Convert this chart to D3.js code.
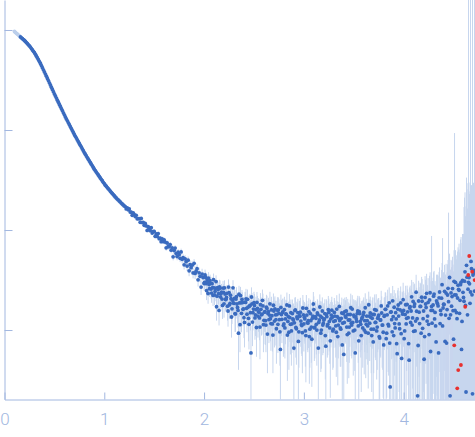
<!DOCTYPE html>
<html><head><meta charset="utf-8">
<script src="https://cdn.jsdelivr.net/npm/d3@7"></script>
<style>html,body{margin:0;padding:0;background:#fff;overflow:hidden}</style>
</head><body>
<svg id="chart" width="475" height="437"></svg>
<script>
// points excluded from the fit (drawn lighter)
const qExcluded = [0.10, 0.11, 0.12, 0.13, 0.14, 0.15];
const iExcluded = [9660, 9462, 9268, 9078, 8892, 8710];
const eExcluded = [45, 45, 44, 44, 43, 43];

// main series: scattering vector q
const qMain = [
0.16,0.17,0.18,0.19,0.20,0.21,0.22,0.23,0.24,0.25,0.26,0.27,0.28,0.29,0.30,0.31,0.32,0.33,0.34,0.35,
0.36,0.37,0.38,0.39,0.40,0.41,0.42,0.43,0.44,0.45,0.46,0.47,0.48,0.49,0.50,0.51,0.52,0.53,0.54,0.55,
0.56,0.57,0.58,0.59,0.60,0.61,0.62,0.63,0.64,0.65,0.66,0.67,0.68,0.69,0.70,0.71,0.72,0.73,0.74,0.75,
0.76,0.77,0.78,0.79,0.80,0.81,0.82,0.83,0.84,0.85,0.86,0.87,0.88,0.89,0.90,0.91,0.92,0.93,0.94,0.95,
0.96,0.97,0.98,0.99,1.00,1.01,1.02,1.03,1.04,1.05,1.06,1.07,1.08,1.09,1.10,1.11,1.12,1.13,1.14,1.15,
1.16,1.17,1.18,1.19,1.20,
1.21,1.22,1.23,1.24,1.25,1.26,1.27,1.28,1.29,1.30,
1.31,1.32,1.33,1.34,1.35,1.36,1.37,1.38,1.39,1.40,
1.41,1.42,1.43,1.44,1.45,1.46,1.47,1.48,1.49,1.50,
1.51,1.52,1.53,1.54,1.55,1.56,1.57,1.58,1.59,1.60,
1.61,1.62,1.63,1.64,1.65,1.66,1.67,1.68,1.69,1.70,
1.71,1.72,1.73,1.74,1.75,1.76,1.77,1.78,1.79,1.80,
1.81,1.82,1.83,1.84,1.85,1.86,1.87,1.88,1.89,1.90,
1.91,1.92,1.93,1.94,1.95,1.96,1.97,1.98,1.99,2.00,
2.01,2.02,2.03,2.04,2.05,2.06,2.07,2.08,2.09,2.10,
2.11,2.12,2.13,2.14,2.15,2.16,2.17,2.18,2.19,2.20,
2.21,2.22,2.23,2.24,2.25,2.26,2.27,2.28,2.29,2.30,
2.31,2.32,2.33,2.34,2.35,2.36,2.37,2.38,2.39,2.40,
2.41,2.42,2.43,2.44,2.45,2.46,2.47,2.48,2.49,2.50,
2.51,2.52,2.53,2.54,2.55,2.56,2.57,2.58,2.59,2.60,
2.61,2.62,2.63,2.64,2.65,2.66,2.67,2.68,2.69,2.70,
2.71,2.72,2.73,2.74,2.75,2.76,2.77,2.78,2.79,2.80,
2.81,2.82,2.83,2.84,2.85,2.86,2.87,2.88,2.89,2.90,
2.91,2.92,2.93,2.94,2.95,2.96,2.97,2.98,2.99,3.00,
3.01,3.02,3.03,3.04,3.05,3.06,3.07,3.08,3.09,3.10,
3.11,3.12,3.13,3.14,3.15,3.16,3.17,3.18,3.19,3.20,
3.21,3.22,3.23,3.24,3.25,3.26,3.27,3.28,3.29,3.30,
3.31,3.32,3.33,3.34,3.35,3.36,3.37,3.38,3.39,3.40,
3.41,3.42,3.43,3.44,3.45,3.46,3.47,3.48,3.49,3.50,
3.51,3.52,3.53,3.54,3.55,3.56,3.57,3.58,3.59,3.60,
3.61,3.62,3.63,3.64,3.65,3.66,3.67,3.68,3.69,3.70,
3.71,3.72,3.73,3.74,3.75,3.76,3.77,3.78,3.79,3.80,
3.81,3.82,3.83,3.84,3.85,3.86,3.87,3.88,3.89,3.90,
3.91,3.92,3.93,3.94,3.95,3.96,3.97,3.98,3.99,4.00,
4.01,4.02,4.03,4.04,4.05,4.06,4.07,4.08,4.09,4.10,
4.11,4.12,4.13,4.14,4.15,4.16,4.17,4.18,4.19,4.20,
4.21,4.22,4.23,4.24,4.25,4.26,4.27,4.28,4.29,4.30,
4.31,4.32,4.33,4.34,4.35,4.36,4.37,4.38,4.39,4.40,
4.41,4.42,4.43,4.44,4.45,4.46,4.47,4.48,4.49,4.50,
4.51,4.52,4.53,4.54,4.55,4.56,4.57,4.58,4.59,4.60,
4.61,4.62,4.63,4.64,4.65,4.66,4.67,4.68,4.69,4.70,
4.71];

// main series: intensity I(q)
const iMain = [
8531,8356,8185,8017,7852,7674,7482,7295,7112,6934,6745,6526,6320,6123,5929,5712,5474,5256,5040,4835,
4624,4406,4198,3999,3811,3627,3451,3278,3120,2963,2817,2677,2543,2419,2296,2188,2084,1986,1894,1803,
1722,1637,1563,1486,1419,1352,1291,1236,1180,1130,1079,1033,987,944,902,865,830,795,764,733,
703,675,647,620,595,572,551,530,510,491,473,455,438,422,406,392,380,367,355,343,
332,321,311,300,291,281,274,266,259,252,245,238,232,226,220,214,209,204,200,195,
191,186,182,178,174,
171.6,162.4,166.5,159.1,162.3,151.1,150.7,140.5,147.9,142.9,
136.4,140.4,129.3,130.1,130.2,119.6,130.7,118.6,119.3,111.6,
116.5,109.8,99.1,108.1,104.3,98.6,105.3,93.3,96.5,96.9,
86.5,91.3,86.3,92.2,82.0,82.8,76.5,81.6,76.8,79.8,
75.8,66.3,74.2,68.2,68.4,71.6,62.9,66.4,53.9,62.4,
66.0,58.2,54.2,60.0,56.7,52.1,60.4,50.9,53.0,44.9,
51.5,48.3,43.6,49.9,39.1,45.0,42.0,44.5,37.2,46.5,
36.8,38.7,41.1,31.8,37.3,34.4,26.9,36.3,33.5,29.2,
35.6,29.1,31.7,23.2,28.5,31.2,25.7,29.1,22.2,26.4,
24.3,30.5,21.8,25.3,15.7,26.2,23.1,20.4,26.3,18.3,
22.9,20.3,23.3,15.5,23.7,18.5,20.6,16.3,26.4,18.5,
14.6,20.4,18.2,15.7,22.8,11.3,18.7,20.2,16.1,13.3,
19.0,20.5,14.4,16.9,11.4,17.6,5.9,18.3,14.9,18.8,
13.2,16.0,18.9,13.8,15.1,10.7,16.1,14.4,17.4,12.5,
15.3,11.2,16.4,14.6,12.7,18.3,11.6,13.9,8.9,15.5,
16.3,12.7,14.3,11.4,14.7,9.6,16.8,12.8,15.2,11.5,
10.5,14.5,17.8,12.2,9.5,13.3,14.9,11.5,12.9,6.6,
15.6,10.6,13.5,14.9,9.6,13.7,12.3,11.1,16.6,11.5,
12.9,8.8,14.1,11.7,15.3,10.2,12.4,8.1,13.8,16.0,
10.7,13.1,10.0,14.3,11.9,17.0,9.3,13.4,11.2,12.6,
14.6,6.9,13.6,11.4,15.0,10.5,12.9,15.8,9.8,12.2,
13.8,11.0,16.2,8.6,13.1,12.4,10.2,14.8,11.7,5.7,
15.3,13.4,10.7,14.3,9.3,12.6,16.7,11.2,11.9,14.1,
10.0,13.6,12.2,15.5,7.8,14.6,11.4,12.9,10.5,15.0,
12.4,9.5,13.8,11.0,17.9,11.7,13.4,8.8,14.3,10.2,
16.0,11.9,9.8,13.1,14.1,8.3,12.6,14.8,11.2,7.1,
14.0,16.1,9.3,17.4,11.0,7.4,15.1,12.7,19.6,8.8,
11.6,14.9,7.3,16.2,13.8,10.3,18.7,5.2,14.4,15.7,
9.8,17.9,13.1,15.2,7.3,16.6,11.9,21.5,13.2,9.7,
18.2,12.3,15.4,2.2,19.5,11.6,17.2,21.3,10.4,15.5,
8.6,18.2,23.3,13.8,11.4,20.0,6.1,17.2,15.7,21.8,
12.9,11.0,19.6,18.3,5.9,24.0,15.7,20.8,11.0,18.1,
24.4,14.1,7.4,22.4,19.2,33.5,14.2,17.3,26.0,8.1,
22.5,29.9,14.9,20.9,25.5,14.7,28.4,6.4,31.3,21.2,
30.8,17.6,44.4,14.2,30.0,29.0,24.0,41.0,2.3,37.0,
24.5];

// main series: error of I(q)
const eMain = [
40,39,38,37,36,35,34,33,32,31.5,30,29,28,27.5,27,26,25,24.5,24,23,
22,21.5,21,20,19.5,19,18.5,18,17.5,17,16.5,16,15.5,15,14.5,14,13.5,13,12.5,12,
12,11.5,11,11,10.5,10,10,9.5,9.5,9,9,8.7,8.5,8.2,8,7.8,7.5,7.3,7,6.8,
6.7,6.5,6.4,6.2,6.1,6,5.9,5.8,5.7,5.6,5.5,5.4,5.3,5.3,5.2,5.1,5.1,5,5,4.9,
4.9,4.8,4.8,4.7,4.7,4.6,4.6,4.5,4.5,4.5,4.4,4.4,4.4,4.3,4.3,4.3,4.2,4.2,4.2,4.1,
4.1,4.1,4.0,4.0,4.0,
4.1,3.9,4.2,4.0,4.3,3.8,4.1,4.0,4.2,3.9,
4.0,4.3,3.9,4.1,4.2,4.0,4.4,3.9,4.1,4.2,
4.0,4.2,4.1,3.9,4.3,4.2,4.0,4.4,4.1,4.2,
4.3,4.1,4.4,4.2,4.5,4.3,4.2,4.4,4.1,4.3,
4.4,4.2,4.5,4.3,4.1,4.6,4.3,4.4,4.2,4.5,
4.3,4.6,4.4,4.2,4.5,4.3,4.7,4.4,4.2,4.6,
4.5,4.3,4.7,4.4,4.6,4.2,4.5,4.8,4.4,4.6,
4.5,4.7,4.3,4.6,4.8,4.4,4.5,4.7,4.6,4.4,
4.6,4.8,4.5,4.9,4.7,4.6,5.0,4.7,4.8,4.6,
4.9,4.7,5.0,4.8,4.6,5.1,4.8,4.9,4.7,5.0,
4.8,5.1,4.9,4.7,5.2,4.9,5.0,4.8,5.1,4.9,
5.0,4.8,5.2,5.1,4.9,5.3,5.0,4.9,5.2,5.0,
5.1,5.3,4.9,5.2,5.0,5.4,5.1,5.2,5.0,5.3,
5.2,5.5,5.1,5.4,5.3,5.6,5.2,5.4,5.7,5.3,
5.5,5.2,5.6,5.4,5.3,5.8,5.4,5.5,5.2,5.6,
5.4,5.7,5.3,5.5,5.6,5.2,5.8,5.4,5.5,5.7,
5.3,5.6,5.9,5.4,5.5,5.7,5.3,5.6,5.4,5.8,
5.5,5.3,5.7,5.6,5.4,5.9,5.5,5.6,5.8,5.4,
5.6,5.8,5.4,5.7,5.5,6.0,5.6,5.4,5.9,5.7,
5.5,5.8,5.6,5.4,6.1,5.7,5.5,5.9,5.6,5.8,
5.7,5.5,6.0,5.8,5.6,5.9,6.2,5.7,5.8,5.6,
5.9,5.7,6.1,5.8,6.0,5.6,5.9,6.3,5.8,6.0,
5.8,6.1,5.9,6.2,6.0,5.8,6.4,6.0,5.9,6.2,
6.1,6.3,6.0,6.5,6.2,6.4,6.1,6.6,6.3,6.2,
6.4,6.2,6.7,6.5,6.3,6.8,6.6,6.4,6.9,6.5,
6.7,6.9,6.6,7.1,6.8,7.0,7.3,6.9,7.2,7.0,
7.3,7.6,7.2,7.9,7.5,7.8,8.2,7.6,8.0,7.7,
8.1,8.4,8.0,8.7,8.3,9.0,8.6,8.8,9.3,8.9,
9.4,9.8,9.2,10.3,9.7,10.1,10.8,10.2,10.6,11.2,
10.9,11.5,11.1,12.0,11.6,12.4,11.9,12.7,12.2,13.1,
12.8,13.6,13.2,14.3,13.8,14.9,14.4,70,15.2,16.0,
15.6,16.8,16.2,17.5,17.0,18.3,17.7,19.1,72,19.6,
20.5,21.8,21.1,23.0,130,24.5,26.0,25.2,28.0,30.5,
910,33.0,36.0,40.0,38.0,45.0,52.0,48.0,60.0,70.0,
180,120,290,150,30000,200,30000,240,30000,260,
30000];

// intermediate readings of the main series (between the grid above), q > 2
const qMid = [
2.005,2.015,2.025,2.035,2.045,2.055,2.065,2.075,2.085,2.095,
2.105,2.115,2.125,2.135,2.145,2.155,2.165,2.175,2.185,2.195,
2.205,2.215,2.225,2.235,2.245,2.255,2.265,2.275,2.285,2.295,
2.305,2.315,2.325,2.335,2.345,2.355,2.365,2.375,2.385,2.395,
2.405,2.415,2.425,2.435,2.445,2.455,2.465,2.475,2.485,2.495,
2.505,2.515,2.525,2.535,2.545,2.555,2.565,2.575,2.585,2.595,
2.605,2.615,2.625,2.635,2.645,2.655,2.665,2.675,2.685,2.695,
2.705,2.715,2.725,2.735,2.745,2.755,2.765,2.775,2.785,2.795,
2.805,2.815,2.825,2.835,2.845,2.855,2.865,2.875,2.885,2.895,
2.905,2.915,2.925,2.935,2.945,2.955,2.965,2.975,2.985,2.995,
3.005,3.015,3.025,3.035,3.045,3.055,3.065,3.075,3.085,3.095,
3.105,3.115,3.125,3.135,3.145,3.155,3.165,3.175,3.185,3.195,
3.205,3.215,3.225,3.235,3.245,3.255,3.265,3.275,3.285,3.295,
3.305,3.315,3.325,3.335,3.345,3.355,3.365,3.375,3.385,3.395,
3.405,3.415,3.425,3.435,3.445,3.455,3.465,3.475,3.485,3.495,
3.505,3.515,3.525,3.535,3.545,3.555,3.565,3.575,3.585,3.595,
3.605,3.615,3.625,3.635,3.645,3.655,3.665,3.675,3.685,3.695,
3.705,3.715,3.725,3.735,3.745,3.755,3.765,3.775,3.785,3.795,
3.805,3.815,3.825,3.835,3.845,3.855,3.865,3.875,3.885,3.895,
3.905,3.915,3.925,3.935,3.945,3.955,3.965,3.975,3.985,3.995,
4.005,4.015,4.025,4.035,4.045,4.055,4.065,4.075,4.085,4.095,
4.105,4.115,4.125,4.135,4.145,4.155,4.165,4.175,4.185,4.195,
4.205,4.215,4.225,4.235,4.245,4.255,4.265,4.275,4.285,4.295,
4.305,4.315,4.325,4.335,4.345,4.355,4.365,4.375,4.385,4.395,
4.405,4.415,4.425,4.435,4.445,4.455,4.465,4.475,4.485,4.495,
4.505,4.515,4.525,4.535,4.545,4.555,4.565,4.575,4.585,4.595,
4.605,4.615,4.625,4.635,4.645,4.655,4.665,4.675,4.685,4.695,
4.705];
const iMid = [
30.0,33.7,24.8,30.1,33.1,25.9,29.3,23.4,26.5,31.9,
22.5,26.1,17.1,26.5,23.1,27.0,21.4,23.9,17.6,23.8,
26.4,20.2,21.2,17.3,26.9,17.9,22.3,13.5,19.9,18.6,
20.7,14.5,21.6,16.8,9.3,18.7,22.1,14.7,18.8,16.3,
11.9,18.9,16.5,20.3,13.1,17.3,14.9,21.4,12.0,16.2,
17.6,14.2,10.6,16.5,15.2,13.2,17.9,14.2,19.8,11.3,
15.1,12.4,16.9,9.1,15.3,14.1,13.0,15.9,11.5,17.7,
12.3,14.2,10.3,15.8,15.9,12.7,6.4,14.3,15.0,11.1,
16.0,12.9,14.3,8.9,13.6,17.4,11.4,9.8,14.6,12.6,
11.8,15.9,10.3,13.0,7.7,13.9,15.1,11.3,9.4,14.2,
13.4,9.8,16.5,11.9,12.4,8.6,14.6,10.7,13.1,18.2,
10.5,13.6,11.4,14.8,6.6,12.6,13.8,10.0,15.5,11.7,
12.9,8.8,14.3,11.0,16.0,12.2,7.8,14.1,13.4,10.2,
15.0,12.4,9.5,13.6,11.2,17.2,10.5,13.1,7.1,14.6,
11.9,13.8,15.5,9.0,12.6,10.7,14.3,11.7,16.2,9.8,
13.6,5.9,12.9,14.6,11.0,15.3,12.2,8.8,13.4,14.1,
10.0,16.7,11.4,12.4,9.3,13.8,14.8,10.2,13.1,7.6,
14.3,11.9,15.8,10.7,13.6,8.6,12.6,17.4,11.2,9.5,
13.7,16.1,8.2,14.2,11.4,18.7,2.7,15.2,9.6,13.6,
16.9,10.5,12.9,5.8,17.8,11.5,15.9,9.2,15.2,20.1,
8.2,14.3,11.5,18.0,13.3,5.0,17.1,15.5,11.2,19.3,
17.2,9.8,23.9,13.0,7.0,15.1,17.2,9.3,19.4,13.0,
5.1,21.2,16.8,12.3,18.9,9.0,23.6,15.7,11.7,17.8,
22.9,15.0,7.6,18.7,17.4,21.0,11.6,14.3,28.4,16.6,
18.0,7.7,23.4,16.0,26.1,13.1,2.2,23.5,21.6,15.6,
30.7,15.7,22.4,13.0,28.1,25.0,19.8,30.0,12.2,23.8,
19.4,38.2,2.4,33.8,25.6,33.5,18.5,48.5,22.5,35.5,
39.5];
const eMid = [
4.7,4.5,4.9,4.6,4.8,4.5,4.9,4.7,4.6,4.8,
4.8,5.0,4.7,4.9,5.1,4.8,4.9,5.0,4.7,4.9,
5.0,4.8,5.1,4.9,5.2,5.0,4.8,5.1,4.9,5.0,
5.1,4.9,5.2,5.0,5.3,5.1,4.9,5.2,5.0,5.1,
5.2,5.0,5.3,5.1,5.4,5.2,5.0,5.3,5.1,5.2,
5.3,5.5,5.2,5.4,5.6,5.3,5.5,5.4,5.6,5.3,
5.5,5.3,5.6,5.4,5.7,5.5,5.3,5.6,5.4,5.5,
5.6,5.4,5.7,5.5,5.3,5.8,5.5,5.6,5.4,5.7,
5.5,5.7,5.4,5.8,5.6,5.5,5.7,5.4,5.6,5.8,
5.6,5.4,5.8,5.5,5.7,5.6,5.9,5.5,5.7,5.6,
5.7,5.5,5.9,5.6,5.8,5.7,5.5,6.0,5.6,5.8,
5.6,5.9,5.7,5.5,6.0,5.8,5.6,5.9,5.7,5.8,
5.8,5.6,6.0,5.7,5.9,6.1,5.7,5.8,5.6,6.0,
5.9,5.7,6.1,5.8,6.0,5.9,6.2,5.8,6.0,5.9,
6.0,6.2,5.9,6.1,6.3,6.0,5.9,6.2,6.1,6.3,
6.2,6.0,6.4,6.1,6.3,6.5,6.2,6.4,6.3,6.1,
6.4,6.6,6.3,6.5,6.7,6.4,6.8,6.5,6.6,6.9,
6.8,6.6,7.0,6.7,7.2,6.9,7.1,7.3,7.0,7.4,
7.4,7.7,7.3,7.8,7.6,8.0,7.5,8.1,7.9,8.3,
8.2,8.5,8.1,8.8,8.6,9.1,8.7,9.2,9.0,9.6,
9.6,9.3,10.0,9.8,10.5,10.0,10.7,10.4,11.0,10.9,
11.2,11.0,11.8,11.4,12.2,11.7,12.5,12.1,12.9,12.6,
13.0,13.4,13.9,13.5,14.1,14.6,14.2,15.0,14.7,15.5,
16.1,15.8,16.9,16.5,17.6,17.2,18.0,18.7,18.4,19.3,
20.0,21.2,22.5,21.8,24.0,23.2,25.5,26.8,27.5,29.5,
32,35,34,42,39,48,44,55,62,58,
150,200,170,260,230,210,280,190,250,220,
240];

// flagged points (red)
const qFlagged = [4.507, 4.537, 4.547, 4.574, 4.617, 4.647, 4.657, 4.687, 4.711];
const iFlagged = [7.03, 2.61, 3.98, 4.47, 17.1, 35.5, 55.0, 38.3, 31.6];

const xTicks = [0, 1, 2, 3, 4];
const yTicks = [10, 100, 1000, 10000];

const svg = d3.select("#chart");
const axisColor = "#a2b7e0";
const R = 1.9;

const x = d3.scaleLinear().domain([0, 4.72]).range([4.5, 475.5]);
const y = d3.scaleLog().domain([2.02, 19950]).range([399.5, 0]).clamp(true);

const main = qMain.map((q, i) => ({q, I: iMain[i], e: eMain[i]}))
  .concat(qMid.map((q, i) => ({q, I: iMid[i], e: eMid[i]})))
  .sort((a, b) => a.q - b.q);
const excl = qExcluded.map((q, i) => ({q, I: iExcluded[i], e: eExcluded[i]}));
const flagged = qFlagged.map((q, i) => ({q, I: iFlagged[i]}));

svg.append("defs").append("clipPath").attr("id", "clip")
  .append("rect").attr("x", 4.5).attr("y", 0).attr("width", 471).attr("height", 399.5);

const plot = svg.append("g").attr("clip-path", "url(#clip)");

const lowV = d => Math.max(d.I - d.e, 1);
plot.append("g").selectAll("line").data(excl.concat(main)).join("line")
  .attr("x1", d => x(d.q)).attr("x2", d => x(d.q))
  .attr("y1", d => y(lowV(d))).attr("y2", d => y(d.I + d.e))
  .attr("stroke", "#c7d6ee").attr("stroke-width", 1);

plot.append("g").selectAll("circle").data(excl).join("circle")
  .attr("cx", d => x(d.q)).attr("cy", d => y(d.I)).attr("r", R)
  .attr("fill", "#bccfeb");

plot.append("g").selectAll("circle").data(main).join("circle")
  .attr("cx", d => x(d.q)).attr("cy", d => y(d.I)).attr("r", R)
  .attr("fill", "#3a6bbf");

plot.append("g").selectAll("circle").data(flagged).join("circle")
  .attr("cx", d => x(d.q)).attr("cy", d => y(d.I)).attr("r", R)
  .attr("fill", "#e8302f");

const xAxis = svg.append("g").attr("transform", "translate(0,399.5)")
  .call(d3.axisBottom(x).tickValues(xTicks).tickSize(-7).tickSizeOuter(0).tickPadding(13).tickFormat(d3.format("d")));
const yAxis = svg.append("g").attr("transform", "translate(4.5,0)")
  .call(d3.axisLeft(y).tickValues(yTicks).tickSize(-8).tickSizeOuter(0).tickFormat(""));

[xAxis, yAxis].forEach(g => {
  g.selectAll("path").attr("stroke", axisColor);
  g.selectAll("line").attr("stroke", axisColor);
  g.selectAll("text").attr("fill", axisColor)
    .style("font-family", "Roboto, 'Open Sans', sans-serif")
    .style("font-weight", 300).style("font-size", "17px");
});
</script>
</body></html>
